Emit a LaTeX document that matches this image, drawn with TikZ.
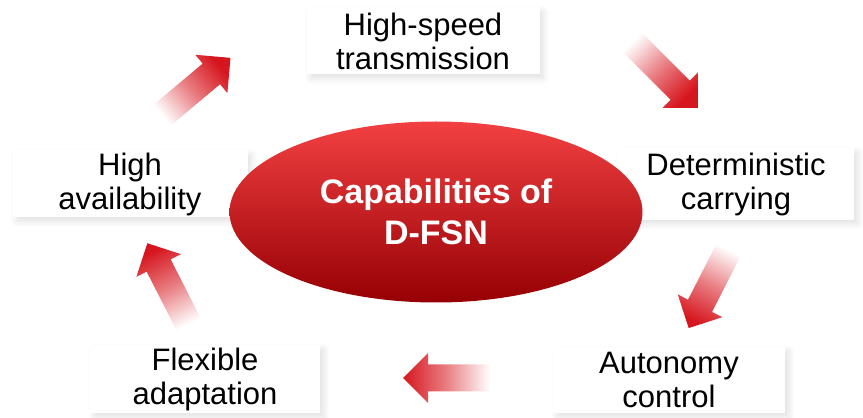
\documentclass[tikz,border=0pt]{standalone}
\usepackage{fontspec}
\setmainfont{Liberation Sans}
\usetikzlibrary{shapes.geometric,shadows.blur}
\definecolor{capred}{RGB}{212,8,18}
\definecolor{captop}{RGB}{242,64,66}
\definecolor{capdark}{RGB}{150,0,4}
\definecolor{arrred}{RGB}{214,22,30}
\tikzset{
	capbox/.style={fill=white, inner sep=0pt, align=center, font=\fontsize{31}{34}\selectfont,
		blur shadow={shadow xshift=4pt, shadow yshift=-4pt, shadow blur steps=8,
			shadow blur radius=6pt, shadow opacity=12}}
}
% fading arrow: tail x, tail y, angle, length
\newcommand{\capArrow}[4]{%
	\begin{scope}[shift={(#1,#2)}, rotate=#3]
		\shade[top color=white, bottom color=arrred, middle color=arrred!55, shading angle=#3+90]
		(0,-13.5) -- (#4-25,-13.5) -- (#4-25,-25) -- (#4,0) -- (#4-25,25) -- (#4-25,13.5) -- (0,13.5) -- cycle;
	\end{scope}}
\begin{document}
\begin{tikzpicture}[x=1pt, y=1pt, line join=round, line cap=round]
				\useasboundingbox (0,0) rectangle (863,418);
				% boxes
				\node[capbox, minimum width=233pt, minimum height=67pt] (speed) at (423,377) {High-speed\\transmission};
				\node[capbox, minimum width=236pt, minimum height=72pt] (determ) at (736,234) {Deterministic\\carrying};
				\node[capbox, minimum width=232pt, minimum height=66pt] (auto) at (669,38) {Autonomy\\control};
				\node[capbox, minimum width=230pt, minimum height=68pt] (flex) at (205,39) {Flexible\\adaptation};
				\node[capbox, minimum width=235pt, minimum height=67pt] (avail) at (130,234) {High\\availability};
				% centre
				\node[ellipse, minimum width=413pt, minimum height=181pt, inner sep=0pt,
					top color=captop, middle color=capred, bottom color=capdark,
					text=white, align=center, font=\bfseries\fontsize{34}{41}\selectfont]
					(cap) at (436,206) {Capabilities of\\D-FSN};
				% arrows
				\capArrow{160}{301}{40}{92}
				\capArrow{630}{378}{-45}{96}
				\capArrow{730}{171}{-117}{91}
				\capArrow{490}{40}{180}{87}
				\capArrow{190}{91}{117}{94}
\end{tikzpicture}
\end{document}
